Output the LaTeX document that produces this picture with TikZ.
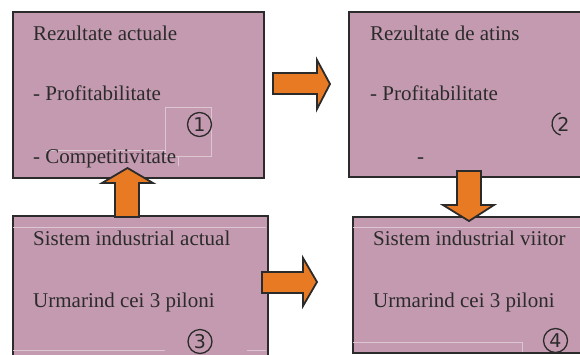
\documentclass[tikz,border=0pt]{standalone}
\usepackage{fontspec}
\setmainfont{Liberation Serif}
\newfontfamily\digitfont{DejaVu Sans}
\definecolor{mauve}{HTML}{C49AB0}
\definecolor{arroworange}{HTML}{E97A24}
\definecolor{edge}{HTML}{2B2B2B}
\definecolor{faint}{HTML}{DCC6D2}

\begin{document}
\begin{tikzpicture}[x=1pt,y=-1pt,
  panel/.style={fill=mauve,draw=edge,line width=1.5pt,inner sep=0pt,anchor=north west},
  label/.style={anchor=base west,inner sep=0pt,font=\fontsize{21}{24}\selectfont,text=edge},
  badge/.style={circle,draw=edge,line width=1.3pt,minimum size=24pt,inner sep=0pt,
                font=\digitfont\fontsize{19}{21}\selectfont,text=edge},
  openbadge/.style={inner sep=0pt,font=\digitfont\fontsize{19}{21}\selectfont,text=edge},
  blockarrow/.style={fill=arroworange,draw=edge,line width=1.8pt,line join=miter},
  guide/.style={draw=faint,line width=0.6pt}]

\useasboundingbox (0,0) rectangle (580,354);
\clip (0,0) rectangle (580,354);

% the four panels
\node[panel,minimum width=251pt,minimum height=166pt] (now)    at (12,11)  {};
\node[panel,minimum width=252pt,minimum height=165pt] (goal)   at (348,11) {};
\node[panel,minimum width=255pt,minimum height=160pt] (sysnow) at (12,215) {};
\node[panel,minimum width=240pt,minimum height=136pt] (sysnew) at (352,216) {};

% faint text-frame outlines inside the panels
\draw[guide] (165,107) rectangle (211,156);
\draw[guide] (46,150) -- (165,150);
\draw[guide] (178,156) -- (178,166);
\draw[guide] (13,227) -- (266,227);
\draw[guide] (13,350) -- (165,350);
\draw[guide] (247,350) -- (266,350);
\draw[guide] (353,227) -- (580,227);
\draw[guide] (353,342) -- (522,342) -- (522,352);

% panel texts
\node[label] (t1a) at (33,40)  {Rezultate actuale};
\node[label] (t1b) at (33,100) {- Profitabilitate};
\node[label] (t1c) at (33,163) {- Competitivitate};
\node[badge] (n1)  at (199.5,124.5) {1};

\node[label] (t2a) at (370,40)  {Rezultate de atins};
\node[label] (t2b) at (370,100) {- Profitabilitate};
\node[label] (t2c) at (417,163) {-};
% number two with only the left part of its ring showing
\node[openbadge] (n2) at (563.5,124) {2};
\draw[edge,line width=1.3pt] (n2.center) ++(105:11.5) arc[start angle=105,end angle=255,radius=11.5];

\node[label] (t3a) at (33,245) {Sistem industrial actual};
\node[label] (t3b) at (33,307) {Urmarind cei 3 piloni};
\node[badge] (n3)  at (200,341.5) {3};

\node[label] (t4a) at (373,245) {Sistem industrial viitor};
\node[label] (t4b) at (373,307) {Urmarind cei 3 piloni};
\node[badge] (n4)  at (555.5,340.5) {4};

% block arrows
\draw[blockarrow] (273,73) -- (317,73) -- (317,60) -- (330,84) -- (317,109) -- (317,94) -- (273,94) -- cycle;
\draw[blockarrow] (115,217) -- (115,183) -- (102,183) -- (127.5,168) -- (153,183) -- (139,183) -- (139,217) -- cycle;
\draw[blockarrow] (457,171) -- (481,171) -- (481,205) -- (494,205) -- (469,221) -- (443,205) -- (457,205) -- cycle;
\draw[blockarrow] (262,272) -- (303,272) -- (303,258) -- (317,282) -- (303,306) -- (303,293) -- (262,293) -- cycle;
\end{tikzpicture}
\end{document}
